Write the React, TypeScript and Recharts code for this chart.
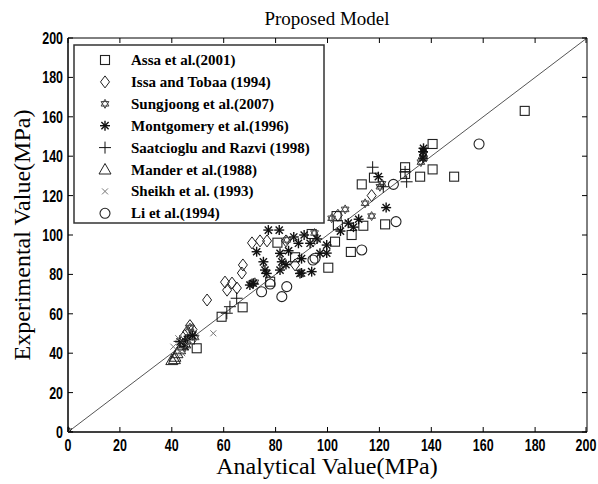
import React from 'react';
import { ScatterChart, Scatter, XAxis, YAxis, ReferenceLine, ReferenceArea } from 'recharts';

const W = 598, H = 484;
const PL = 68, PT = 38, PR = 587, PB = 432;

const xTicks = [0, 20, 40, 60, 80, 100, 120, 140, 160, 180, 200];
const yTicks = [0, 20, 40, 60, 80, 100, 120, 140, 160, 180, 200];

const seriesNames = [
  'Assa et al.(2001)',
  'Issa and Tobaa (1994)',
  'Sungjoong et al.(2007)',
  'Montgomery et al.(1996)',
  'Saatcioglu and Razvi (1998)',
  'Mander et al.(1988)',
  'Sheikh et al. (1993)',
  'Li et al.(1994)',
];

const assa: [number, number][] = [
  [176, 163], [140.5, 146.2], [140.5, 133.3], [135.7, 129.6], [148.8, 129.6], [129.9, 134.4], [129.9, 131],
  [117.9, 129.1], [113.2, 125.7], [103.5, 109.6], [93.9, 100.5], [102.9, 96.6], [109.3, 100], [113.8, 104.7],
  [122.2, 105.4], [109, 91.4], [100.3, 83.4], [80.7, 96.1], [87.5, 88.7], [77.9, 76.3], [67.3, 63.3],
  [59.2, 58.5], [49.6, 42.5], [104, 105], [47, 47],
];
const issa: [number, number][] = [
  [70.9, 96], [74, 97], [76.7, 97], [67.4, 84.8], [67, 80.7], [60.5, 76.1], [63.2, 75.6], [61.3, 72],
  [65.1, 73.1], [87.5, 84.8], [53.6, 67], [46, 51], [47, 54], [48, 52], [45, 49], [104, 110], [117, 120], [84, 97],
];
const sungjoong: [number, number][] = [
  [48, 50], [47, 53], [49, 48], [70.8, 75.5], [72, 76], [84.3, 97.5], [95, 101], [101.6, 108.5], [106.8, 113],
  [114.5, 116.1], [117, 109.6], [120.2, 124.5], [137, 139], [137, 141], [137, 143], [136, 137], [121, 126],
];
const montgomery: [number, number][] = [
  [0, 0], [77.2, 102.5], [81.4, 102.5], [72.7, 91.5], [75.3, 86.4], [75.9, 82.2], [76.6, 80.5], [81.7, 90.7],
  [82.4, 86.4], [81.7, 82.2], [89.4, 80.5], [93.9, 81.4], [88.8, 95.8], [93.3, 95.8], [97.1, 90.7], [99.7, 94.9],
  [71.4, 75.5], [70.1, 74.6], [99.7, 90.8], [90, 80.7], [122.6, 113.9], [136.8, 142.3], [136.8, 139], [137, 144],
  [119.6, 129.6], [43.2, 45.8], [45.1, 43.3], [46, 47], [48, 49], [85, 92], [90, 88], [105, 102], [108, 106],
  [112, 108], [96, 98], [84, 85], [87, 99], [91, 100], [110, 104],
];
const saatcioglu: [number, number][] = [
  [65, 67.9], [62.4, 63.6], [61.2, 60.3], [117.4, 134.4], [130.5, 127], [121.5, 124.5], [129.9, 132], [43, 46], [45, 45],
];
const mander: [number, number][] = [
  [0, 0], [40, 36.5], [41.2, 38.2], [42, 40], [43, 42], [44, 44], [41, 37], [45, 45],
];
const sheikh: [number, number][] = [
  [0, 0], [56, 50.1], [40.6, 43.3], [42.5, 47.6], [44, 40], [46, 44], [43, 41], [47, 46],
];
const li: [number, number][] = [
  [158.4, 146.2], [125.4, 125.7], [126.4, 106.8], [113.2, 92.4], [95.2, 88.2], [74.6, 71.2], [77.9, 75.1],
  [82.4, 68.7], [84.3, 73.8], [94.4, 87.3],
];

const toObj = (arr: [number, number][]) => arr.map(([x, y]) => ({ x, y }));

const sq = (cx: number, cy: number) => (
  <rect x={cx - 4.5} y={cy - 4.5} width={9} height={9} fill="none" stroke="#222" strokeWidth={1.1} />
);
const dia = (cx: number, cy: number) => (
  <polygon points={`${cx},${cy - 6} ${cx + 4.5},${cy} ${cx},${cy + 6} ${cx - 4.5},${cy}`} fill="none" stroke="#222" strokeWidth={1} />
);
const hexa = (cx: number, cy: number) => {
  const r = 4.5;
  const t1 = [0, 120, 240].map((a) => { const t = ((a - 90) * Math.PI) / 180; return `${cx + r * Math.cos(t)},${cy + r * Math.sin(t)}`; }).join(' ');
  const t2 = [60, 180, 300].map((a) => { const t = ((a - 90) * Math.PI) / 180; return `${cx + r * Math.cos(t)},${cy + r * Math.sin(t)}`; }).join(' ');
  return (
    <g fill="none" stroke="#444" strokeWidth={1}>
      <polygon points={t1} />
      <polygon points={t2} />
    </g>
  );
};
const star = (cx: number, cy: number) => (
  <g stroke="#111" strokeWidth={1.4}>
    <line x1={cx - 5} y1={cy} x2={cx + 5} y2={cy} />
    <line x1={cx} y1={cy - 5} x2={cx} y2={cy + 5} />
    <line x1={cx - 3.6} y1={cy - 3.6} x2={cx + 3.6} y2={cy + 3.6} />
    <line x1={cx - 3.6} y1={cy + 3.6} x2={cx + 3.6} y2={cy - 3.6} />
  </g>
);
const plus = (cx: number, cy: number) => (
  <g stroke="#111" strokeWidth={1}>
    <line x1={cx - 6} y1={cy} x2={cx + 6} y2={cy} />
    <line x1={cx} y1={cy - 6} x2={cx} y2={cy + 6} />
  </g>
);
const tri = (cx: number, cy: number) => (
  <polygon points={`${cx},${cy - 6} ${cx + 6},${cy + 4.5} ${cx - 6},${cy + 4.5}`} fill="none" stroke="#222" strokeWidth={1} />
);
const cross = (cx: number, cy: number) => (
  <g stroke="#777" strokeWidth={1}>
    <line x1={cx - 3} y1={cy - 3} x2={cx + 3} y2={cy + 3} />
    <line x1={cx - 3} y1={cy + 3} x2={cx + 3} y2={cy - 3} />
  </g>
);
const circ = (cx: number, cy: number) => (
  <circle cx={cx} cy={cy} r={5} fill="none" stroke="#222" strokeWidth={1.1} />
);

const markers = [sq, dia, hexa, star, plus, tri, cross, circ];
const datasets = [assa, issa, sungjoong, montgomery, saatcioglu, mander, sheikh, li];

const tickFont = { fontFamily: "'Liberation Sans', Arial, sans-serif", fontWeight: 700, fontSize: 16 };

const XTick = (props: any) => {
  const { x, payload } = props;
  return (
    <g>
      <line x1={x} x2={x} y1={PB} y2={PB - 5} stroke="#000" />
      <line x1={x} x2={x} y1={PT} y2={PT + 5} stroke="#000" />
      <text transform={`translate(${x}, ${PB + 19}) scale(0.78, 1)`} textAnchor="middle" fill="#000" style={tickFont}>{payload.value}</text>
    </g>
  );
};
const YTick = (props: any) => {
  const { y, payload } = props;
  return (
    <g>
      <line x1={PL} x2={PL + 5} y1={y} y2={y} stroke="#000" />
      <line x1={PR} x2={PR - 5} y1={y} y2={y} stroke="#000" />
      <text transform={`translate(${PL - 5}, ${y + 6}) scale(0.78, 1)`} textAnchor="end" fill="#000" style={tickFont}>{payload.value}</text>
    </g>
  );
};

const serif = "'Liberation Serif', 'Times New Roman', serif";

export default function App() {
  return (
    <div style={{ position: 'absolute', left: 0, top: 0, width: W, height: H, background: '#fff' }}>
      <ScatterChart width={W} height={H} margin={{ top: 38, right: 11, bottom: 22, left: 8 }}>
        <XAxis type="number" dataKey="x" domain={[0, 200]} ticks={xTicks} height={30} tickSize={0}
          tick={<XTick />} axisLine={{ stroke: '#000' }} tickLine={false} allowDataOverflow />
        <YAxis type="number" dataKey="y" domain={[0, 200]} ticks={yTicks} width={60} tickSize={0}
          tick={<YTick />} axisLine={{ stroke: '#000' }} tickLine={false} allowDataOverflow />
        <ReferenceArea x1={0} x2={200} y1={0} y2={200} fill="none" stroke="#000" strokeWidth={1} ifOverflow="extendDomain" />
        <ReferenceLine segment={[{ x: 0, y: 0 }, { x: 200, y: 200 }]} stroke="#555" strokeWidth={1} />
        {datasets.map((d, i) => (
          <Scatter key={seriesNames[i]} name={seriesNames[i]} data={toObj(d)} isAnimationActive={false}
            shape={(p: any) => markers[i](p.cx, p.cy)} />
        ))}
      </ScatterChart>
      <svg width={W} height={H} style={{ position: 'absolute', left: 0, top: 0, pointerEvents: 'none' }}>
        <text x={327} y={25} textAnchor="middle" fontFamily={serif} fontSize={19} fill="#000">Proposed Model</text>
        <text x={327} y={474} textAnchor="middle" fontFamily={serif} fontSize={24} fill="#000">Analytical Value(MPa)</text>
        <text transform={`translate(30, 235) rotate(-90)`} textAnchor="middle" fontFamily={serif} fontSize={24} fill="#000">Experimental Value(MPa)</text>
        <rect x={74} y={45} width={250} height={178} fill="#fff" stroke="#333" strokeWidth={1.5} />
        {seriesNames.map((n, i) => {
          const cy = 60 + i * 21.9;
          return (
            <g key={n}>
              {markers[i](105, cy)}
              <text x={131} y={cy + 5} fontFamily={serif} fontWeight={700} fontSize={15} fill="#000">{n}</text>
            </g>
          );
        })}
      </svg>
    </div>
  );
}
